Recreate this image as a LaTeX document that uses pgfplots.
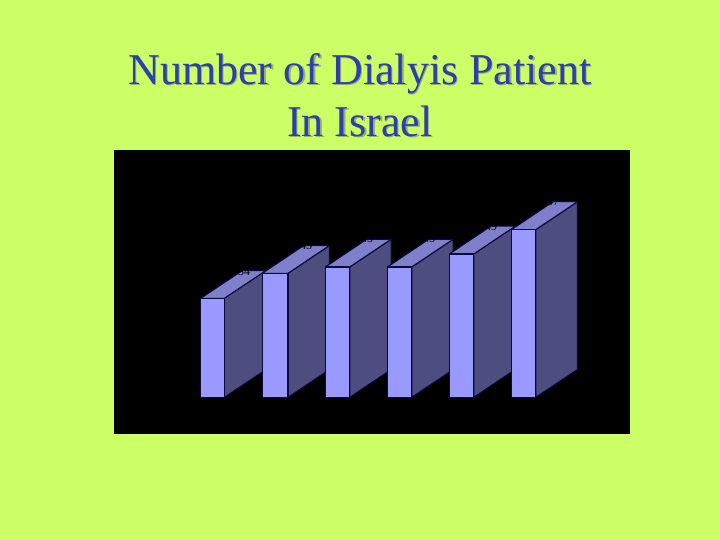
\documentclass[border=0pt]{standalone}
\usepackage{fontspec}
\setmainfont{Liberation Serif}
\usepackage{pgfplots}
\pgfplotsset{compat=1.18}
\definecolor{bgc}{HTML}{CCFF66}
\definecolor{frontc}{HTML}{9999FF}
\definecolor{sidec}{HTML}{4D4D80}
\definecolor{topc}{HTML}{7F7FCC}
\definecolor{edgec}{HTML}{0A0A3C}
\definecolor{titlec}{HTML}{2C3FAE}
\definecolor{shadowc}{HTML}{9AB06A}
\pgfplotsset{
  front/.style={fill=frontc,draw=edgec,line width=1.1pt,line join=round},
  side/.style={fill=sidec,draw=edgec,line width=1.1pt,line join=round},
  topf/.style={fill=topc,draw=edgec,line width=1.1pt,line join=round},
}
\newcommand{\titletext}[3]{%
  \node[anchor=base,text=shadowc,font=\fontsize{44}{44}\selectfont] at (axis cs:#1+1.5,#2+1.5) {#3};
  \node[anchor=base,text=titlec,font=\fontsize{44}{44}\selectfont] at (axis cs:#1,#2) {#3};
}
\begin{document}
\begin{tikzpicture}
\begin{axis}[
  width=720pt,height=540pt,scale only axis,
  xmin=0,xmax=720,ymin=0,ymax=540,y dir=reverse,
  hide axis,
]
% page and plot-area backgrounds
\addplot[fill=bgc,draw=none] coordinates {(0,0)(720,0)(720,540)(0,540)} --cycle;
\addplot[fill=black,draw=none] coordinates {(114,150)(630,150)(630,434)(114,434)} --cycle;
% bar 1
\addplot[side] coordinates {(224.3,298.3)(266,270.5)(266,369.5)(224.3,397.3)} --cycle;
\addplot[topf] coordinates {(200.7,298.3)(224.3,298.3)(266,270.5)(242.4,270.5)} --cycle;
\addplot[front] coordinates {(200.7,298.3)(224.3,298.3)(224.3,397.3)(200.7,397.3)} --cycle;
% bar 2
\addplot[side] coordinates {(288,273.3)(329.5,245.5)(329.5,369.5)(288,397.3)} --cycle;
\addplot[topf] coordinates {(262.3,273.3)(288,273.3)(329.5,245.5)(303.8,245.5)} --cycle;
\addplot[front] coordinates {(262.3,273.3)(288,273.3)(288,397.3)(262.3,397.3)} --cycle;
% bar 3
\addplot[side] coordinates {(349.7,267)(391.2,239.2)(391.2,369.5)(349.7,397.3)} --cycle;
\addplot[topf] coordinates {(325.3,267)(349.7,267)(391.2,239.2)(366.8,239.2)} --cycle;
\addplot[front] coordinates {(325.3,267)(349.7,267)(349.7,397.3)(325.3,397.3)} --cycle;
% bar 4
\addplot[side] coordinates {(411.7,267)(453.2,239.2)(453.2,369.5)(411.7,397.3)} --cycle;
\addplot[topf] coordinates {(387.3,267)(411.7,267)(453.2,239.2)(428.8,239.2)} --cycle;
\addplot[front] coordinates {(387.3,267)(411.7,267)(411.7,397.3)(387.3,397.3)} --cycle;
% bar 5
\addplot[side] coordinates {(473.7,254)(515.2,226.2)(515.2,369.5)(473.7,397.3)} --cycle;
\addplot[topf] coordinates {(449.3,254)(473.7,254)(515.2,226.2)(490.8,226.2)} --cycle;
\addplot[front] coordinates {(449.3,254)(473.7,254)(473.7,397.3)(449.3,397.3)} --cycle;
% bar 6
\addplot[side] coordinates {(535.7,229.7)(577.5,201.7)(577.5,369.5)(535.7,397.3)} --cycle;
\addplot[topf] coordinates {(511.3,229.7)(535.7,229.7)(577.5,201.7)(553.1,201.7)} --cycle;
\addplot[front] coordinates {(511.3,229.7)(535.7,229.7)(535.7,397.3)(511.3,397.3)} --cycle;
% value labels (black on black, only their feet show on the bar tops)
\node[anchor=base,text=black,font=\fontsize{12}{12}\selectfont] at (axis cs:244,275.5) {34};
\node[anchor=base,text=black,font=\fontsize{12}{12}\selectfont] at (axis cs:306,249.8) {43};
\node[anchor=base,text=black,font=\fontsize{12}{12}\selectfont] at (axis cs:367,243) {45};
\node[anchor=base,text=black,font=\fontsize{12}{12}\selectfont] at (axis cs:429,243) {45};
\node[anchor=base,text=black,font=\fontsize{12}{12}\selectfont] at (axis cs:491,230.5) {49};
\node[anchor=base,text=black,font=\fontsize{12}{12}\selectfont] at (axis cs:553,206) {57};
% title
\titletext{360}{84.5}{Number of Dialyis Patient}
\titletext{360}{136.5}{In Israel}
\end{axis}
\end{tikzpicture}
\end{document}
